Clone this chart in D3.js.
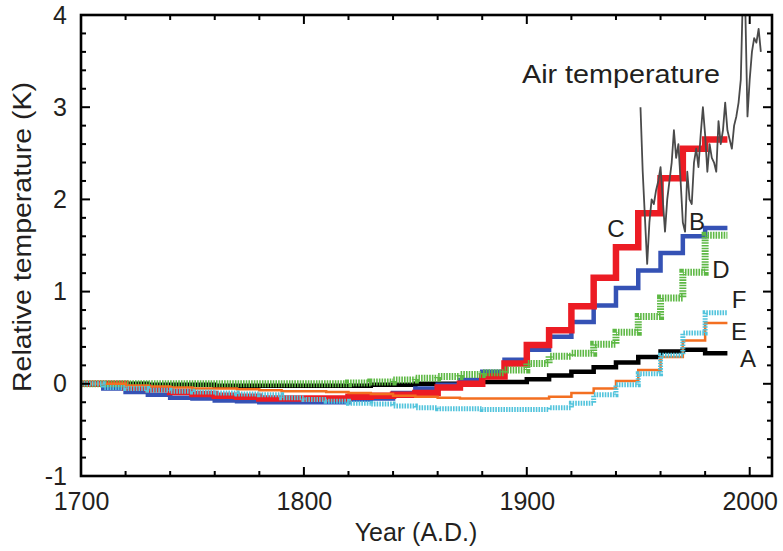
<!DOCTYPE html>
<html>
<head>
<meta charset="utf-8">
<script src="https://cdn.jsdelivr.net/npm/d3@7"></script>
<style>
html,body{margin:0;padding:0;background:#fff;}
svg{display:block;font-family:"Liberation Sans",Arial,Helvetica,sans-serif;}
</style>
</head>
<body>
<svg id="chart" width="783" height="551"></svg>
<script>
// ---------- data ----------
const decades = [1700,1710,1720,1730,1740,1750,1760,1770,1780,1790,1800,1810,1820,1830,1840,1850,1860,1870,1880,1890,1900,1910,1920,1930,1940,1950,1960,1970,1980];
const endYear = 1990;
const seriesA = [0,0,0,-0.01,-0.01,-0.01,-0.02,-0.02,-0.02,-0.02,-0.02,-0.02,-0.02,-0.01,-0.01,0,0,0,0.02,0.02,0.05,0.09,0.13,0.18,0.23,0.29,0.35,0.37,0.33];
const seriesB = [0,-0.05,-0.09,-0.12,-0.15,-0.16,-0.18,-0.19,-0.2,-0.2,-0.2,-0.2,-0.17,-0.16,-0.1,-0.05,-0.01,0.04,0.13,0.26,0.37,0.51,0.67,0.85,1.04,1.23,1.42,1.6,1.69];
const seriesC = [0,0,-0.04,-0.06,-0.09,-0.11,-0.13,-0.14,-0.16,-0.16,-0.16,-0.16,-0.14,-0.13,-0.12,-0.1,-0.04,0,0.08,0.22,0.42,0.58,0.84,1.15,1.48,1.85,2.23,2.55,2.65];
const seriesD = [0,0,0,0,0,0,0,0,0,0,0,0,0.01,0.02,0.04,0.06,0.08,0.1,0.12,0.15,0.22,0.3,0.33,0.43,0.56,0.73,0.93,1.21,1.61];
const seriesE = [0,0,-0.02,-0.03,-0.04,-0.05,-0.05,-0.06,-0.07,-0.08,-0.08,-0.09,-0.1,-0.11,-0.13,-0.14,-0.15,-0.16,-0.16,-0.16,-0.16,-0.14,-0.1,-0.05,0.03,0.15,0.29,0.47,0.66];
const seriesF = [0,-0.04,-0.05,-0.07,-0.08,-0.09,-0.1,-0.11,-0.12,-0.15,-0.17,-0.19,-0.21,-0.22,-0.24,-0.26,-0.27,-0.27,-0.28,-0.28,-0.28,-0.26,-0.21,-0.12,-0.01,0.11,0.31,0.55,0.77];
const airYears = d3.range(1951, 2006);
const airTemp = [3.0,2.3,1.8,1.3,1.75,2.0,1.95,2.1,2.2,2.35,2.0,1.65,2.0,2.2,2.4,2.75,2.45,2.6,2.2,1.75,1.65,2.3,2.0,1.95,2.4,2.55,2.35,2.7,3.0,2.7,2.3,2.6,2.45,2.4,2.3,2.85,2.6,2.75,3.05,2.75,2.65,2.55,2.8,2.9,3.05,3.3,4.3,4.1,2.9,3.3,3.6,3.75,3.7,3.85,3.6];
const xMajorTicks = [1700,1800,1900,2000];
const xMinorTicks = d3.range(1700, 2010, 20);
const yMajorTicks = [-1,0,1,2,3,4];
const yMinorTicks = d3.range(-1, 4.001, 0.2);
const seriesLabels = ["A","B","C","D","E","F"];

// ---------- layout ----------
const svg = d3.select("#chart");
const L = 81, R = 772, T = 15, B = 476;
const x = d3.scaleLinear().domain([1700, 2010]).range([L, R]);
const y = d3.scaleLinear().domain([-1, 4]).range([B, T]);

svg.append("defs").append("clipPath").attr("id","clip")
  .append("rect").attr("x",L).attr("y",T).attr("width",R-L).attr("height",B-T);

const plot = svg.append("g").attr("clip-path","url(#clip)");

function stepPts(vals){
  const pts = decades.map((d,i)=>[d, vals[i]]);
  pts.push([endYear, vals[vals.length-1]]);
  return pts;
}
const stepLine = d3.line().x(d=>x(d[0])).y(d=>y(d[1])).curve(d3.curveStepAfter);

const styles = [
  {vals: seriesA, color:"#000000", w:4.5, dash:null},
  {vals: seriesB, color:"#3552b5", w:4.5, dash:null},
  {vals: seriesC, color:"#ec1c24", w:6.5, dash:null},
  {vals: seriesD, color:"#5db844", w:7, dash:"1.6,1.1"},
  {vals: seriesE, color:"#f36f21", w:2.5, dash:null},
  {vals: seriesF, color:"#52c4dc", w:5, dash:"1.6,1.1"}
];
styles.forEach(s=>{
  plot.append("path").attr("d", stepLine(stepPts(s.vals)))
    .attr("fill","none").attr("stroke", s.color).attr("stroke-width", s.w)
    .attr("stroke-linejoin","miter").attr("stroke-linecap","butt")
    .attr("stroke-dasharray", s.dash);
});

const airLine = d3.line().x((d,i)=>x(airYears[i])).y(d=>y(d));
plot.append("path").attr("d", airLine(airTemp))
  .attr("fill","none").attr("stroke","#4a4a4a").attr("stroke-width",1.8)
  .attr("stroke-linejoin","round");

// ---------- frame & ticks ----------
const ax = svg.append("g").attr("stroke","#000").attr("stroke-width",2);
xMinorTicks.forEach(t=>{
  const len = xMajorTicks.includes(t) ? 9 : 5;
  ax.append("line").attr("x1",x(t)).attr("x2",x(t)).attr("y1",B).attr("y2",B-len);
  ax.append("line").attr("x1",x(t)).attr("x2",x(t)).attr("y1",T).attr("y2",T+len);
});
yMinorTicks.forEach(t=>{
  const isMaj = Math.abs(t-Math.round(t))<1e-6;
  const len = isMaj ? 9 : 5;
  ax.append("line").attr("x1",L).attr("x2",L+len).attr("y1",y(t)).attr("y2",y(t));
  ax.append("line").attr("x1",R).attr("x2",R-len).attr("y1",y(t)).attr("y2",y(t));
});
svg.append("rect").attr("x",L).attr("y",T).attr("width",R-L).attr("height",B-T)
  .attr("fill","none").attr("stroke","#000").attr("stroke-width",2.6);

// tick labels via axes
const xAxis = d3.axisBottom(x).tickValues(xMajorTicks).tickFormat(d3.format("d")).tickSize(0).tickPadding(16);
const gx = svg.append("g").attr("transform",`translate(0,${B})`).call(xAxis);
gx.select(".domain").remove();
gx.selectAll("text").attr("font-size",25).attr("fill","#231f20").attr("font-family","Liberation Sans, Arial, sans-serif");

const yAxis = d3.axisLeft(y).tickValues(yMajorTicks).tickFormat(d3.format("d")).tickSize(0).tickPadding(14);
const gy = svg.append("g").attr("transform",`translate(${L},0)`).call(yAxis);
gy.select(".domain").remove();
gy.selectAll("text").attr("font-size",25).attr("fill","#231f20").attr("font-family","Liberation Sans, Arial, sans-serif").text(d=> d<0 ? "-"+Math.abs(d) : d);

// axis titles
svg.append("text").attr("x",416).attr("y",541).attr("text-anchor","middle")
  .attr("font-size",25).attr("fill","#231f20").text("Year (A.D.)");
svg.append("text").attr("transform","translate(31,237) rotate(-90)").attr("text-anchor","middle")
  .attr("font-size",25).attr("fill","#231f20").attr("textLength",310).attr("lengthAdjust","spacingAndGlyphs")
  .text("Relative temperature (K)");

// annotations
svg.append("text").attr("x",522).attr("y",83).attr("font-size",26).attr("fill","#231f20")
  .attr("textLength",198).attr("lengthAdjust","spacingAndGlyphs").text("Air temperature");
const labelPos = [[748,367],[697,230],[616,237],[721,278],[739,340],[739,308]];
seriesLabels.forEach((s,i)=>{
  svg.append("text").attr("x",labelPos[i][0]).attr("y",labelPos[i][1]).attr("text-anchor","middle")
    .attr("font-size",24).attr("fill","#231f20").text(s);
});
</script>
</body>
</html>
